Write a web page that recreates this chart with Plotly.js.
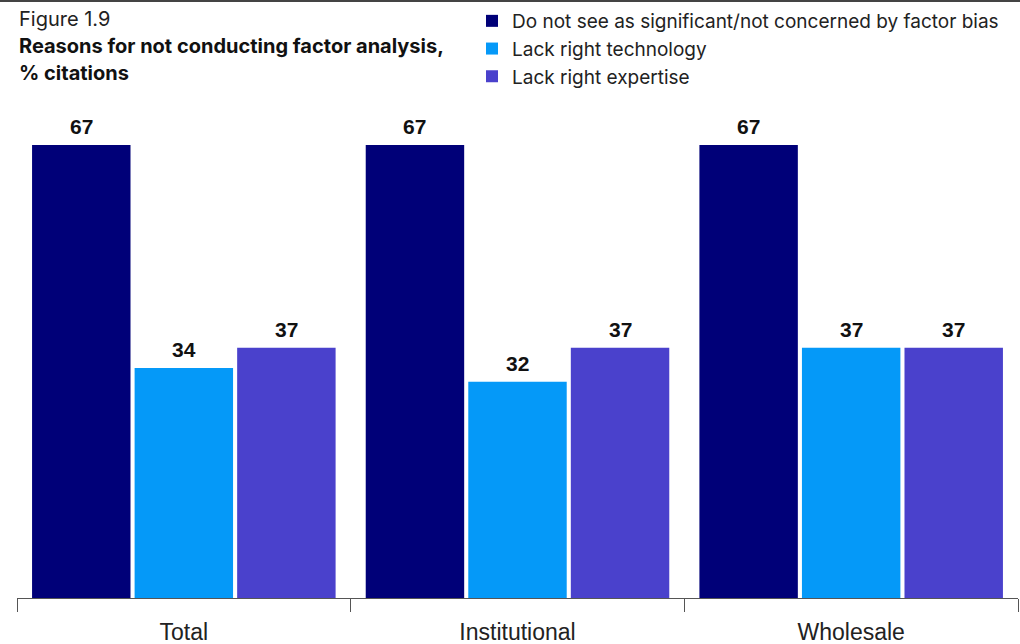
<!DOCTYPE html>
<html><head><meta charset="utf-8">
<script src="https://cdn.plot.ly/plotly-3.0.1.min.js"></script>
<style>html,body{margin:0;padding:0;background:#fff}#chart{width:1020px;height:644px}</style>
</head><body><div id="chart"></div>
<script>
const categories = ["Total", "Institutional", "Wholesale"];
const seriesNames = ["Do not see as significant/not concerned by factor bias", "Lack right technology", "Lack right expertise"];
const notSignificant = [67, 67, 67];
const lackTechnology = [34, 32, 37];
const lackExpertise = [37, 37, 37];
const colors = ["#000078", "#0599F8", "#4A41CC"];

const series = [notSignificant, lackTechnology, lackExpertise];
const plotTop = 0, plotBottom = 598, plotH = plotBottom - plotTop;
const pxPerUnit = 453 / 67;
const pyToPaper = py => (plotBottom - py) / plotH;
const pxToPaper = px => (px - 17) / 1001;

const traces = series.map((vals, i) => ({
  type: 'bar', name: seriesNames[i], x: categories, y: vals,
  marker: {color: colors[i]}, hoverinfo: 'none'
}));

const bargap = 0.078, slot = (1 - bargap) / 3;
const annotations = [];
series.forEach((vals, i) => vals.forEach((v, j) => {
  annotations.push({
    x: j + (i - 1) * slot, y: v, xref: 'x', yref: 'y',
    text: '<b>' + v + '</b>', showarrow: false, yanchor: 'bottom', yshift: 5,
    font: {family: 'Liberation Sans, Arial, sans-serif', size: 21, color: '#111'}
  });
}));
const titleFont = 'Inter, sans-serif';
annotations.push(
  {xref: 'paper', yref: 'paper', x: 0, y: pyToPaper(19), xanchor: 'left', yanchor: 'middle', showarrow: false,
   text: 'Figure 1.9', font: {family: titleFont, size: 20, color: '#222'}},
  {xref: 'paper', yref: 'paper', x: 0, y: pyToPaper(46), xanchor: 'left', yanchor: 'middle', showarrow: false,
   text: '<b>Reasons for not conducting factor analysis,</b>', font: {family: titleFont, size: 20, color: '#111'}},
  {xref: 'paper', yref: 'paper', x: 0, y: pyToPaper(73), xanchor: 'left', yanchor: 'middle', showarrow: false,
   text: '<b>% citations</b>', font: {family: titleFont, size: 20, color: '#111'}}
);

const layout = {
  width: 1020, height: 644,
  margin: {l: 17, r: 2, t: plotTop, b: 644 - plotBottom, autoexpand: false},
  paper_bgcolor: '#fff', plot_bgcolor: '#fff',
  barmode: 'group', bargap: bargap, bargroupgap: 0.04,
  showlegend: true,
  legend: {x: pxToPaper(472), y: pyToPaper(2), xanchor: 'left', yanchor: 'top',
    font: {family: titleFont, size: 19, color: '#222'}, traceorder: 'normal', bgcolor: 'rgba(0,0,0,0)'},
  xaxis: {type: 'category', showline: true, linecolor: '#555', linewidth: 1, ticks: 'outside', tickson: 'boundaries',
    ticklen: 13, tickcolor: '#555', tickwidth: 1, showgrid: false, zeroline: false, automargin: false,
    ticklabelstandoff: 13,
    tickfont: {family: 'Liberation Sans Narrow, Arial Narrow, sans-serif', size: 23, color: '#222'}},
  yaxis: {range: [0, plotH / pxPerUnit], visible: false, showgrid: false, zeroline: false},
  annotations: annotations,
  shapes: [{type: 'line', xref: 'paper', yref: 'paper', x0: -0.02, x1: 1.01, y0: pyToPaper(1), y1: pyToPaper(1),
    line: {color: '#444', width: 2}}]
};
Plotly.newPlot('chart', traces, layout, {staticPlot: true});
</script></body></html>
